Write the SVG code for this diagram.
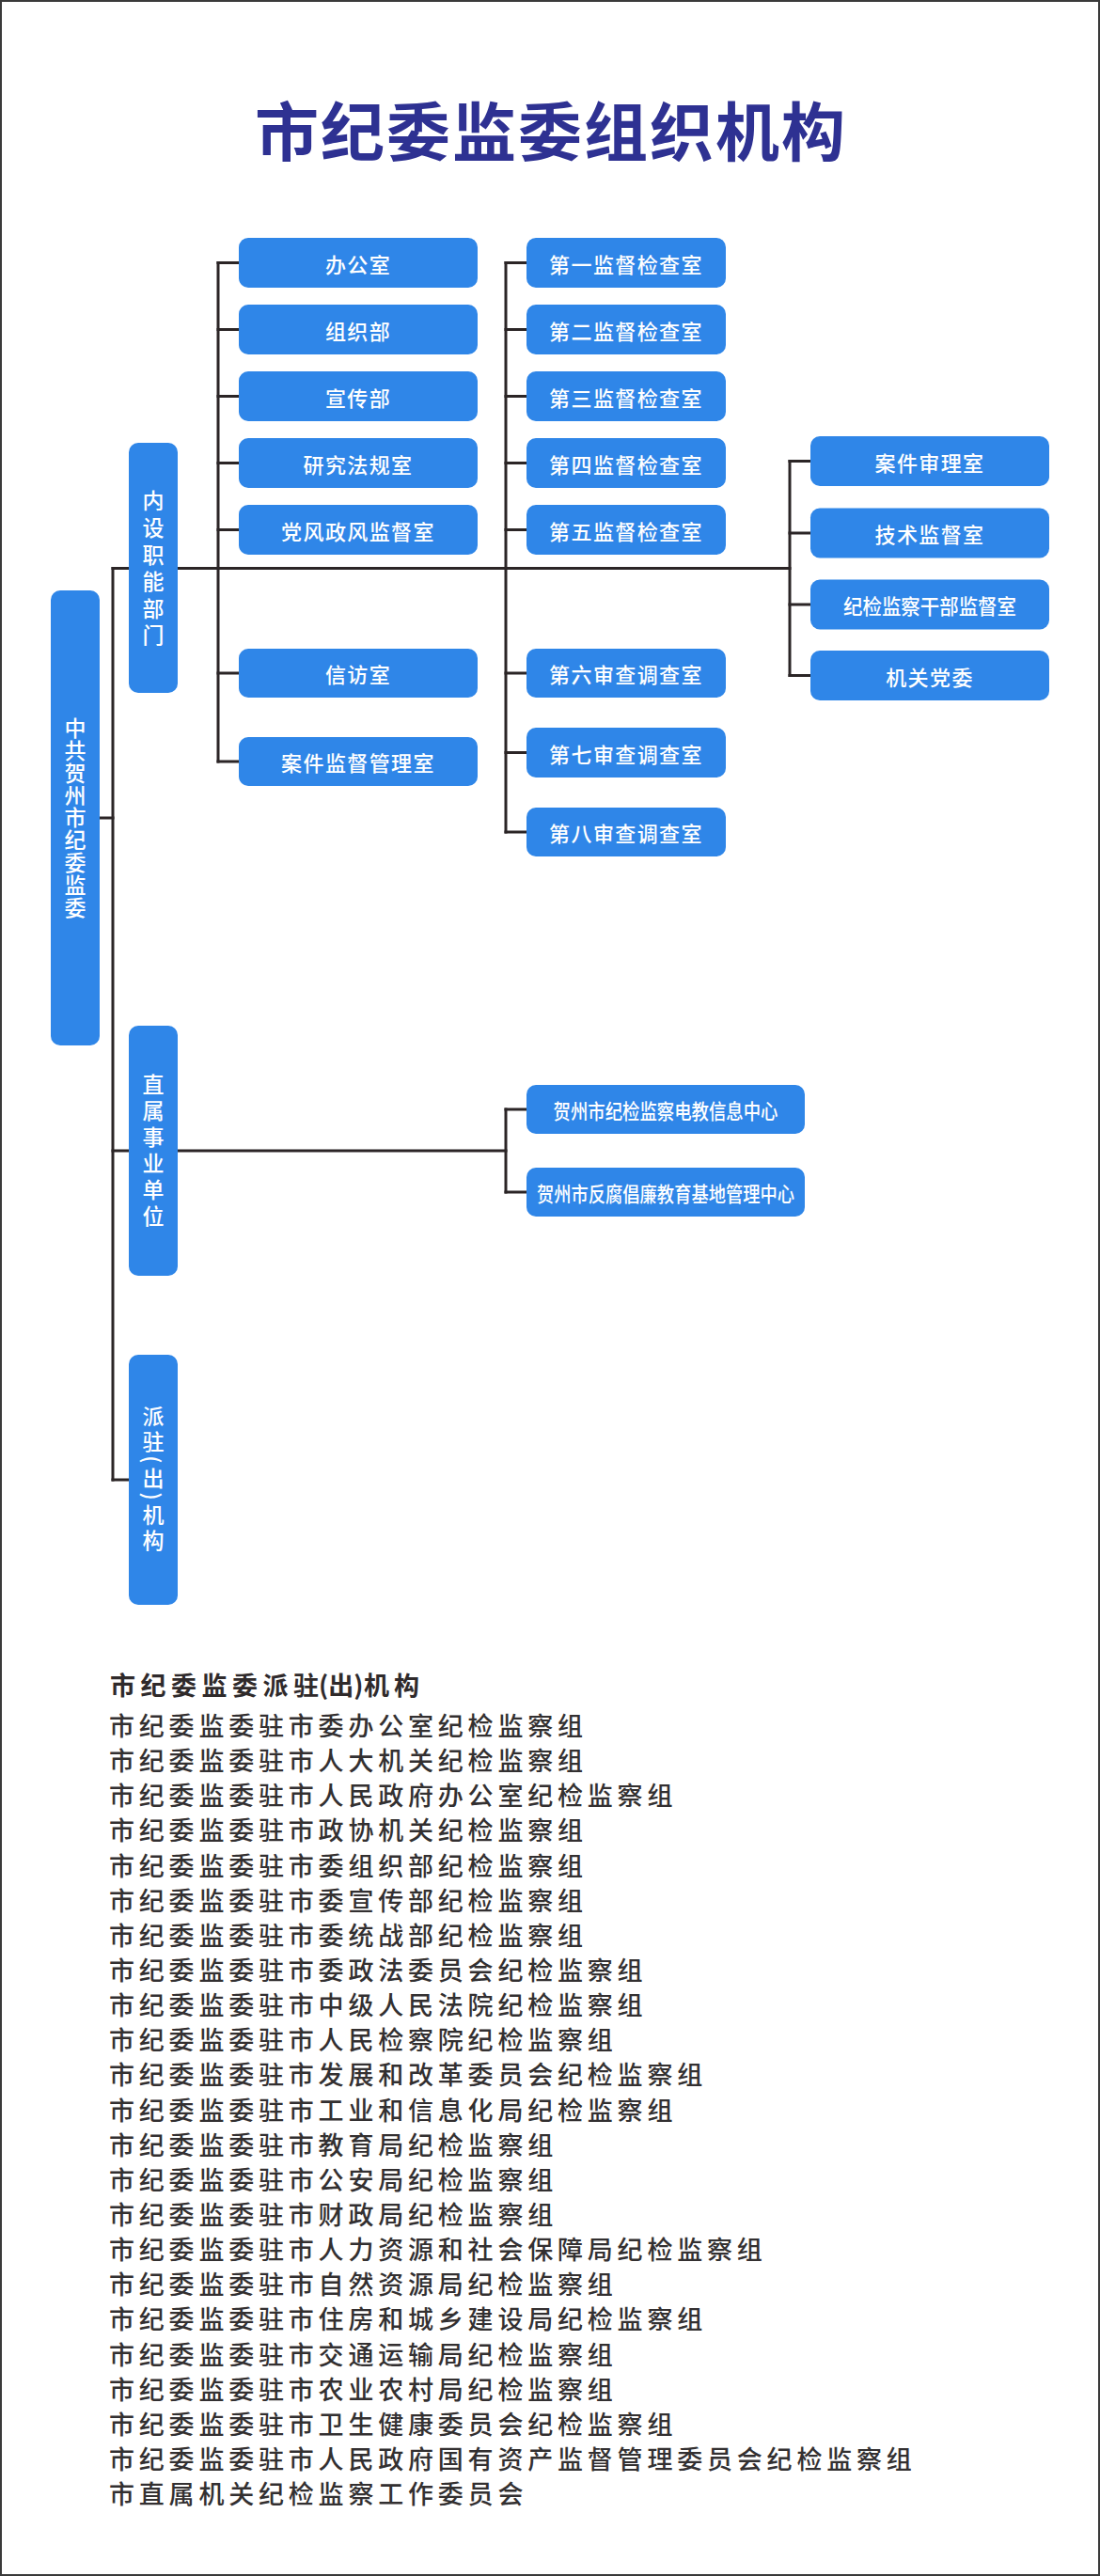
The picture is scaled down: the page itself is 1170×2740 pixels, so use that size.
<svg xmlns="http://www.w3.org/2000/svg" width="1170" height="2740" viewBox="0 0 1170 2740">
<style>
.bg{fill:#ffffff}
.frame{fill:none;stroke:#3a3a3a;stroke-width:2}
.box{fill:#2f86e8}
.lbl{font-family:"Noto Sans CJK SC","Noto Sans",sans-serif;font-size:22px;font-weight:500;fill:#ffffff;text-anchor:middle;dominant-baseline:central;letter-spacing:1.4px}
.vlbl{font-family:"Noto Sans CJK SC","Noto Sans",sans-serif;font-size:23px;font-weight:500;fill:#ffffff;text-anchor:middle;writing-mode:vertical-rl}
.ln{fill:none;stroke:#2b2526;stroke-width:3;stroke-linecap:square;stroke-linejoin:miter}
.title{font-family:"Noto Sans CJK SC","Noto Sans",sans-serif;font-size:68px;font-weight:bold;fill:#2e3192;text-anchor:middle;letter-spacing:2px}
.head{font-family:"Noto Sans CJK SC","Noto Sans",sans-serif;font-size:27px;font-weight:bold;fill:#2f2a2b}
.item{font-family:"Noto Sans CJK SC","Noto Sans",sans-serif;font-size:27px;font-weight:500;fill:#333031;letter-spacing:4.8px}
</style>
<rect class="bg" x="0" y="0" width="1170" height="2740"/>
<rect class="frame" x="1" y="1" width="1168" height="2738"/>
<text class="title" x="586" y="166">市纪委监委组织机构</text>

<g id="connectors">
  <path class="ln" d="M106,870 H120"/>
  <path class="ln" d="M120,604.5 V1574"/>
  <path class="ln" d="M120,604.5 H840"/>
  <path class="ln" d="M232,279.5 V810"/>
  <path class="ln" d="M232,279.5 H254 M232,350.5 H254 M232,421.5 H254 M232,492.5 H254 M232,563.5 H254 M232,716 H254 M232,810 H254"/>
  <path class="ln" d="M538,279.5 V885"/>
  <path class="ln" d="M538,279.5 H560 M538,350.5 H560 M538,421.5 H560 M538,492.5 H560 M538,563.5 H560 M538,716 H560 M538,800.5 H560 M538,885 H560"/>
  <path class="ln" d="M840,490.5 V718.5"/>
  <path class="ln" d="M840,490.5 H862 M840,567 H862 M840,643 H862 M840,718.5 H862"/>
  <path class="ln" d="M120,1224 H538"/>
  <path class="ln" d="M538,1180 V1268"/>
  <path class="ln" d="M538,1180 H560 M538,1268 H560"/>
  <path class="ln" d="M120,1574 H137"/>
</g>

<g id="root">
  <rect class="box" x="54" y="628" width="52" height="484" rx="10"/>
  <text class="vlbl" x="80" y="870" style="letter-spacing:0.8px">中共贺州市纪委监委</text>
</g>
<g id="neishe">
  <rect class="box" x="137" y="471" width="52" height="266" rx="10"/>
  <text class="vlbl" x="163" y="607" style="letter-spacing:5.6px">内设职能部门</text>
</g>
<g id="zhishu">
  <rect class="box" x="137" y="1091" width="52" height="266" rx="10"/>
  <text class="vlbl" x="163" y="1226" style="letter-spacing:5.1px">直属事业单位</text>
</g>
<g id="paizhu">
  <rect class="box" x="137" y="1441" width="52" height="266" rx="10"/>
  <text class="vlbl" x="163" y="1574" style="letter-spacing:4px">派驻(出)机构</text>
</g>

<g id="c1-1"><rect class="box" x="254" y="253" width="254" height="53" rx="10"/><text class="lbl" x="381" y="279.5">办公室</text></g>
<g id="c1-2"><rect class="box" x="254" y="324" width="254" height="53" rx="10"/><text class="lbl" x="381" y="350.5">组织部</text></g>
<g id="c1-3"><rect class="box" x="254" y="395" width="254" height="53" rx="10"/><text class="lbl" x="381" y="421.5">宣传部</text></g>
<g id="c1-4"><rect class="box" x="254" y="466" width="254" height="53" rx="10"/><text class="lbl" x="381" y="492.5">研究法规室</text></g>
<g id="c1-5"><rect class="box" x="254" y="537" width="254" height="53" rx="10"/><text class="lbl" x="381" y="563.5">党风政风监督室</text></g>
<g id="c1-6"><rect class="box" x="254" y="690" width="254" height="52" rx="10"/><text class="lbl" x="381" y="716">信访室</text></g>
<g id="c1-7"><rect class="box" x="254" y="784" width="254" height="52" rx="10"/><text class="lbl" x="381" y="810">案件监督管理室</text></g>

<g id="c2-1"><rect class="box" x="560" y="253" width="212" height="53" rx="10"/><text class="lbl" x="666" y="279.5">第一监督检查室</text></g>
<g id="c2-2"><rect class="box" x="560" y="324" width="212" height="53" rx="10"/><text class="lbl" x="666" y="350.5">第二监督检查室</text></g>
<g id="c2-3"><rect class="box" x="560" y="395" width="212" height="53" rx="10"/><text class="lbl" x="666" y="421.5">第三监督检查室</text></g>
<g id="c2-4"><rect class="box" x="560" y="466" width="212" height="53" rx="10"/><text class="lbl" x="666" y="492.5">第四监督检查室</text></g>
<g id="c2-5"><rect class="box" x="560" y="537" width="212" height="53" rx="10"/><text class="lbl" x="666" y="563.5">第五监督检查室</text></g>
<g id="c2-6"><rect class="box" x="560" y="690" width="212" height="52" rx="10"/><text class="lbl" x="666" y="716">第六审查调查室</text></g>
<g id="c2-7"><rect class="box" x="560" y="774" width="212" height="53" rx="10"/><text class="lbl" x="666" y="800.5">第七审查调查室</text></g>
<g id="c2-8"><rect class="box" x="560" y="859" width="212" height="52" rx="10"/><text class="lbl" x="666" y="885">第八审查调查室</text></g>

<g id="c3-1"><rect class="box" x="862" y="464" width="254" height="53" rx="10"/><text class="lbl" x="989" y="490.5">案件审理室</text></g>
<g id="c3-2"><rect class="box" x="862" y="540.5" width="254" height="53" rx="10"/><text class="lbl" x="989" y="567">技术监督室</text></g>
<g id="c3-3"><rect class="box" x="862" y="616.5" width="254" height="53" rx="10"/><text class="lbl" x="989" y="643" textLength="184" lengthAdjust="spacingAndGlyphs" style="letter-spacing:0">纪检监察干部监督室</text></g>
<g id="c3-4"><rect class="box" x="862" y="692" width="254" height="53" rx="10"/><text class="lbl" x="989" y="718.5">机关党委</text></g>

<g id="u-1"><rect class="box" x="560" y="1154" width="296" height="52" rx="10"/><text class="lbl" x="708" y="1180" textLength="239" lengthAdjust="spacingAndGlyphs" style="letter-spacing:0">贺州市纪检监察电教信息中心</text></g>
<g id="u-2"><rect class="box" x="560" y="1242" width="296" height="52" rx="10"/><text class="lbl" x="708" y="1268" textLength="274" lengthAdjust="spacingAndGlyphs" style="letter-spacing:0">贺州市反腐倡廉教育基地管理中心</text></g>

<g id="list">
  <text class="head" x="117" y="1803"><tspan style="letter-spacing:5.5px">市纪委监委派</tspan><tspan style="letter-spacing:0px">驻(出)</tspan><tspan x="387" style="letter-spacing:5px">机构</tspan></text>
  <text class="item" x="116" y="1846">市纪委监委驻市委办公室纪检监察组</text>
  <text class="item" x="116" y="1883.1">市纪委监委驻市人大机关纪检监察组</text>
  <text class="item" x="116" y="1920.3">市纪委监委驻市人民政府办公室纪检监察组</text>
  <text class="item" x="116" y="1957.4">市纪委监委驻市政协机关纪检监察组</text>
  <text class="item" x="116" y="1994.6">市纪委监委驻市委组织部纪检监察组</text>
  <text class="item" x="116" y="2031.7">市纪委监委驻市委宣传部纪检监察组</text>
  <text class="item" x="116" y="2068.8">市纪委监委驻市委统战部纪检监察组</text>
  <text class="item" x="116" y="2106">市纪委监委驻市委政法委员会纪检监察组</text>
  <text class="item" x="116" y="2143.1">市纪委监委驻市中级人民法院纪检监察组</text>
  <text class="item" x="116" y="2180.3">市纪委监委驻市人民检察院纪检监察组</text>
  <text class="item" x="116" y="2217.4">市纪委监委驻市发展和改革委员会纪检监察组</text>
  <text class="item" x="116" y="2254.5">市纪委监委驻市工业和信息化局纪检监察组</text>
  <text class="item" x="116" y="2291.7">市纪委监委驻市教育局纪检监察组</text>
  <text class="item" x="116" y="2328.8">市纪委监委驻市公安局纪检监察组</text>
  <text class="item" x="116" y="2366">市纪委监委驻市财政局纪检监察组</text>
  <text class="item" x="116" y="2403.1">市纪委监委驻市人力资源和社会保障局纪检监察组</text>
  <text class="item" x="116" y="2440.2">市纪委监委驻市自然资源局纪检监察组</text>
  <text class="item" x="116" y="2477.4">市纪委监委驻市住房和城乡建设局纪检监察组</text>
  <text class="item" x="116" y="2514.5">市纪委监委驻市交通运输局纪检监察组</text>
  <text class="item" x="116" y="2551.7">市纪委监委驻市农业农村局纪检监察组</text>
  <text class="item" x="116" y="2588.8">市纪委监委驻市卫生健康委员会纪检监察组</text>
  <text class="item" x="116" y="2626">市纪委监委驻市人民政府国有资产监督管理委员会纪检监察组</text>
  <text class="item" x="116" y="2663">市直属机关纪检监察工作委员会</text>
</g>
</svg>
